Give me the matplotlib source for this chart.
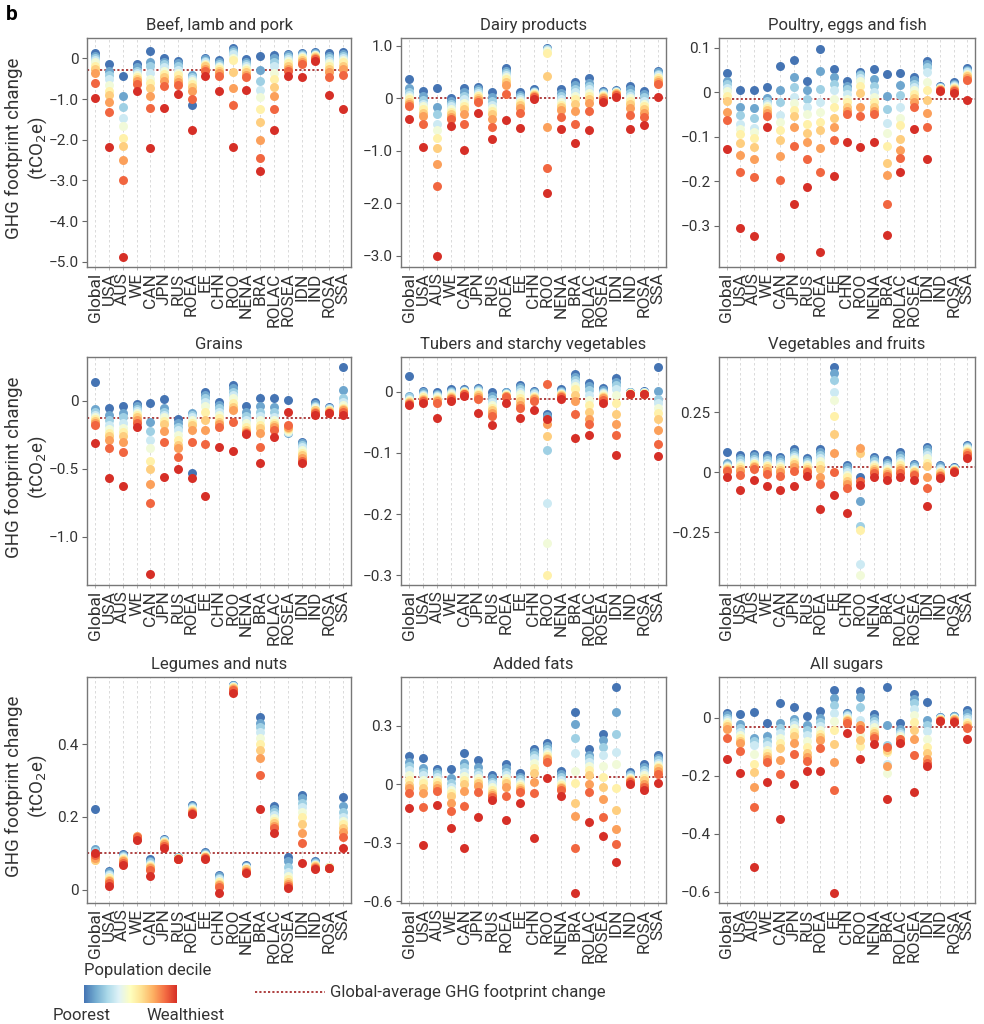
import numpy as np
import matplotlib.pyplot as plt
from matplotlib.lines import Line2D
from matplotlib.colors import LinearSegmentedColormap

plt.rcParams['font.family'] = ['Roboto', 'DejaVu Sans']

# DATA
regions = ['Global', 'USA', 'AUS', 'WE', 'CAN', 'JPN', 'RUS', 'ROEA', 'EE', 'CHN',
           'ROO', 'NENA', 'BRA', 'ROLAC', 'ROSEA', 'IDN', 'IND', 'ROSA', 'SSA']
titles = ['Beef, lamb and pork', 'Dairy products', 'Poultry, eggs and fish',
          'Grains', 'Tubers and starchy vegetables', 'Vegetables and fruits',
          'Legumes and nuts', 'Added fats', 'All sugars']

# one row per region, deciles 1 (poorest) .. 10 (wealthiest), tCO2e
beef = [
    [0.12, 0.05, 0.0, -0.05, -0.1, -0.18, -0.25, -0.35, -0.6, -0.98],
    [-0.13, -0.3, -0.4, -0.5, -0.65, -0.8, -0.9, -1.08, -1.32, -2.18],
    [-0.44, -0.93, -1.19, -1.46, -1.67, -1.96, -2.15, -2.51, -3.0, -4.88],
    [-0.13, -0.22, -0.3, -0.35, -0.4, -0.45, -0.5, -0.56, -0.62, -0.8],
    [0.18, -0.08, -0.2, -0.35, -0.5, -0.6, -0.72, -0.93, -1.21, -2.2],
    [0.02, -0.08, -0.15, -0.22, -0.3, -0.38, -0.46, -0.55, -0.68, -1.22],
    [-0.06, -0.12, -0.2, -0.28, -0.35, -0.42, -0.5, -0.58, -0.66, -0.88],
    [-1.15, -0.42, -0.45, -0.5, -0.55, -0.62, -0.7, -0.8, -1.0, -1.75],
    [0.02, -0.02, -0.06, -0.1, -0.13, -0.17, -0.2, -0.25, -0.3, -0.43],
    [-0.04, -0.1, -0.14, -0.18, -0.22, -0.27, -0.32, -0.37, -0.43, -0.8],
    [0.26, 0.21, 0.16, 0.1, 0.02, -0.05, -0.33, -0.72, -1.15, -2.18],
    [-0.02, -0.08, -0.13, -0.18, -0.23, -0.28, -0.33, -0.4, -0.47, -0.77],
    [0.06, -0.29, -0.56, -0.78, -0.95, -1.24, -1.56, -2.0, -2.44, -2.77],
    [0.09, 0.0, -0.1, -0.2, -0.35, -0.5, -0.7, -0.93, -1.25, -1.77],
    [0.11, 0.07, 0.03, -0.02, -0.07, -0.12, -0.18, -0.25, -0.32, -0.44],
    [0.12, 0.1, 0.08, 0.06, 0.03, 0.0, -0.04, -0.08, -0.14, -0.47],
    [0.15, 0.13, 0.11, 0.09, 0.07, 0.05, 0.03, 0.01, -0.02, -0.06],
    [0.12, 0.06, 0.0, -0.06, -0.12, -0.18, -0.25, -0.33, -0.47, -0.9],
    [0.15, 0.1, 0.05, 0.0, -0.05, -0.1, -0.18, -0.27, -0.42, -1.24],
]
dairy = [
    [0.37, 0.2, 0.13, 0.07, 0.02, -0.02, -0.06, -0.1, -0.15, -0.4],
    [0.14, 0.05, -0.03, -0.1, -0.15, -0.2, -0.27, -0.33, -0.48, -0.92],
    [0.2, -0.16, -0.3, -0.48, -0.6, -0.76, -0.95, -1.25, -1.66, -3.0],
    [0.0, -0.05, -0.1, -0.15, -0.2, -0.25, -0.3, -0.35, -0.4, -0.52],
    [0.2, 0.12, 0.05, -0.02, -0.08, -0.14, -0.2, -0.3, -0.48, -0.99],
    [0.22, 0.18, 0.14, 0.1, 0.07, 0.04, 0.01, -0.03, -0.07, -0.27],
    [0.13, 0.03, -0.05, -0.12, -0.18, -0.24, -0.3, -0.4, -0.55, -0.78],
    [0.58, 0.53, 0.48, 0.44, 0.4, 0.36, 0.32, 0.25, 0.08, -0.41],
    [0.12, 0.07, 0.03, -0.01, -0.05, -0.09, -0.13, -0.18, -0.27, -0.57],
    [0.17, 0.15, 0.13, 0.12, 0.1, 0.08, 0.06, 0.04, 0.02, -0.02],
    [0.96, 0.95, 0.94, 0.93, 0.9, 0.86, 0.42, -0.55, -1.33, -1.81],
    [0.17, 0.1, 0.04, -0.02, -0.07, -0.12, -0.17, -0.22, -0.35, -0.59],
    [0.32, 0.25, 0.18, 0.12, 0.05, -0.02, -0.1, -0.24, -0.49, -0.84],
    [0.38, 0.3, 0.23, 0.17, 0.1, 0.04, -0.02, -0.08, -0.24, -0.6],
    [0.15, 0.12, 0.1, 0.08, 0.06, 0.04, 0.02, 0.0, -0.03, -0.07],
    [0.16, 0.15, 0.14, 0.13, 0.12, 0.11, 0.1, 0.08, 0.06, 0.03],
    [0.24, 0.17, 0.1, 0.05, 0.0, -0.05, -0.1, -0.18, -0.32, -0.59],
    [0.14, 0.08, 0.02, -0.04, -0.1, -0.15, -0.2, -0.27, -0.35, -0.5],
    [0.53, 0.5, 0.47, 0.44, 0.41, 0.38, 0.35, 0.32, 0.28, 0.02],
]
poultry = [
    [0.044, 0.025, 0.018, 0.01, 0.002, -0.008, -0.02, -0.044, -0.063, -0.127],
    [0.005, -0.033, -0.051, -0.072, -0.083, -0.095, -0.115, -0.141, -0.18, -0.306],
    [0.005, -0.036, -0.058, -0.08, -0.09, -0.104, -0.123, -0.15, -0.19, -0.324],
    [0.011, -0.013, -0.02, -0.026, -0.031, -0.036, -0.041, -0.047, -0.054, -0.079],
    [0.058, 0.005, -0.023, -0.051, -0.068, -0.085, -0.108, -0.144, -0.198, -0.37],
    [0.072, 0.034, 0.011, -0.011, -0.025, -0.04, -0.053, -0.079, -0.121, -0.252],
    [0.026, 0.004, -0.015, -0.034, -0.049, -0.072, -0.091, -0.112, -0.15, -0.213],
    [0.097, 0.048, 0.008, -0.023, -0.045, -0.068, -0.085, -0.125, -0.18, -0.359],
    [0.053, 0.034, 0.019, 0.004, -0.015, -0.034, -0.057, -0.079, -0.108, -0.189],
    [0.026, 0.015, 0.008, -0.004, -0.015, -0.023, -0.033, -0.042, -0.049, -0.111],
    [0.045, 0.042, 0.038, 0.032, 0.025, 0.015, -0.002, -0.034, -0.053, -0.123],
    [0.053, 0.03, 0.013, 0.0, -0.011, -0.023, -0.033, -0.042, -0.049, -0.113],
    [0.042, -0.008, -0.038, -0.07, -0.091, -0.122, -0.16, -0.187, -0.252, -0.32],
    [0.044, 0.017, -0.006, -0.034, -0.057, -0.074, -0.106, -0.13, -0.147, -0.18],
    [0.034, 0.027, 0.019, 0.012, 0.004, -0.004, -0.012, -0.021, -0.033, -0.082],
    [0.07, 0.064, 0.057, 0.045, 0.023, 0.005, -0.017, -0.047, -0.078, -0.15],
    [0.013, 0.012, 0.011, 0.01, 0.009, 0.008, 0.007, 0.006, 0.005, 0.003],
    [0.022, 0.019, 0.016, 0.013, 0.011, 0.009, 0.007, 0.005, 0.003, -0.002],
    [0.054, 0.051, 0.048, 0.045, 0.042, 0.039, 0.036, 0.032, 0.027, -0.017],
]
grains = [
    [0.142, -0.06, -0.08, -0.1, -0.115, -0.13, -0.145, -0.16, -0.18, -0.307],
    [-0.049, -0.1, -0.14, -0.175, -0.21, -0.235, -0.26, -0.29, -0.35, -0.57],
    [-0.034, -0.09, -0.12, -0.165, -0.2, -0.23, -0.26, -0.3, -0.373, -0.624],
    [-0.025, -0.04, -0.06, -0.075, -0.09, -0.105, -0.12, -0.14, -0.165, -0.19],
    [-0.017, -0.157, -0.221, -0.287, -0.349, -0.442, -0.504, -0.614, -0.749, -1.278],
    [0.012, -0.05, -0.08, -0.1, -0.12, -0.145, -0.172, -0.221, -0.305, -0.563],
    [-0.135, -0.165, -0.19, -0.214, -0.25, -0.287, -0.324, -0.349, -0.415, -0.504],
    [-0.533, -0.09, -0.1, -0.12, -0.14, -0.16, -0.18, -0.214, -0.3, -0.57],
    [0.069, 0.044, 0.02, -0.005, -0.037, -0.079, -0.14, -0.214, -0.317, -0.7],
    [-0.005, -0.03, -0.054, -0.079, -0.1, -0.128, -0.152, -0.17, -0.19, -0.337],
    [0.118, 0.093, 0.069, 0.044, 0.02, -0.012, -0.047, -0.066, -0.152, -0.366],
    [-0.034, -0.079, -0.11, -0.14, -0.165, -0.19, -0.214, -0.226, -0.238, -0.243],
    [0.025, -0.037, -0.079, -0.11, -0.14, -0.177, -0.2, -0.233, -0.337, -0.459],
    [0.02, -0.042, -0.079, -0.115, -0.14, -0.165, -0.18, -0.194, -0.214, -0.268],
    [0.007, -0.235, -0.23, -0.225, -0.22, -0.21, -0.2, -0.19, -0.175, -0.08],
    [-0.3, -0.31, -0.325, -0.34, -0.36, -0.38, -0.4, -0.42, -0.44, -0.455],
    [-0.005, -0.02, -0.035, -0.045, -0.055, -0.065, -0.07, -0.08, -0.09, -0.1],
    [-0.042, -0.05, -0.055, -0.06, -0.065, -0.07, -0.075, -0.08, -0.085, -0.09],
    [0.253, 0.081, 0.02, -0.01, -0.03, -0.05, -0.06, -0.07, -0.08, -0.1],
]
tubers = [
    [0.026, -0.007, -0.009, -0.011, -0.013, -0.015, -0.016, -0.018, -0.02, -0.022],
    [0.002, -0.001, -0.003, -0.005, -0.007, -0.009, -0.011, -0.013, -0.015, -0.019],
    [0.0, -0.003, -0.005, -0.007, -0.009, -0.011, -0.013, -0.015, -0.018, -0.043],
    [0.004, 0.002, 0.0, -0.002, -0.004, -0.006, -0.008, -0.01, -0.012, -0.015],
    [0.004, 0.003, 0.002, 0.001, 0.0, -0.001, -0.002, -0.003, -0.004, -0.006],
    [0.007, 0.005, 0.003, 0.001, -0.001, -0.003, -0.005, -0.008, -0.011, -0.035],
    [-0.001, -0.006, -0.011, -0.016, -0.021, -0.026, -0.03, -0.035, -0.04, -0.055],
    [0.0, -0.001, -0.002, -0.003, -0.004, -0.005, -0.006, -0.007, -0.009, -0.019],
    [0.012, 0.008, 0.004, 0.0, -0.004, -0.01, -0.015, -0.022, -0.026, -0.042],
    [0.002, 0.0, -0.002, -0.004, -0.006, -0.008, -0.01, -0.012, -0.015, -0.03],
    [-0.037, -0.04, -0.095, -0.182, -0.248, -0.3, -0.072, -0.052, 0.013, -0.045],
    [0.004, 0.002, 0.0, -0.002, -0.003, -0.004, -0.005, -0.006, -0.008, -0.011],
    [0.029, 0.025, 0.02, 0.015, 0.009, 0.004, -0.005, -0.015, -0.037, -0.076],
    [0.015, 0.009, 0.003, -0.005, -0.014, -0.022, -0.033, -0.044, -0.053, -0.07],
    [0.006, 0.003, 0.0, -0.002, -0.004, -0.006, -0.008, -0.01, -0.013, -0.019],
    [0.022, 0.016, 0.011, 0.004, -0.005, -0.018, -0.037, -0.053, -0.07, -0.103],
    [0.0, -0.001, -0.001, -0.002, -0.002, -0.002, -0.003, -0.003, -0.003, -0.004],
    [0.001, 0.0, -0.001, -0.001, -0.002, -0.002, -0.003, -0.003, -0.003, -0.004],
    [0.04, 0.001, -0.011, -0.019, -0.027, -0.035, -0.044, -0.063, -0.085, -0.105],
]
veg_fruit = [
    [0.086, 0.04, 0.03, 0.025, 0.02, 0.016, 0.013, 0.01, 0.005, -0.018],
    [0.072, 0.06, 0.05, 0.04, 0.03, 0.022, 0.014, 0.005, -0.011, -0.074],
    [0.076, 0.066, 0.056, 0.048, 0.04, 0.033, 0.027, 0.02, 0.012, -0.032],
    [0.072, 0.06, 0.05, 0.04, 0.032, 0.024, 0.016, 0.006, -0.008, -0.057],
    [0.065, 0.054, 0.044, 0.035, 0.027, 0.018, 0.01, 0.0, -0.015, -0.074],
    [0.097, 0.085, 0.073, 0.063, 0.053, 0.043, 0.033, 0.022, 0.007, -0.057],
    [0.058, 0.05, 0.042, 0.035, 0.028, 0.021, 0.014, 0.007, 0.0, -0.014],
    [0.097, 0.085, 0.072, 0.06, 0.045, 0.03, 0.013, -0.018, -0.049, -0.153],
    [0.44, 0.412, 0.385, 0.336, 0.299, 0.236, 0.158, 0.079, -0.001, -0.094],
    [0.031, 0.02, 0.01, 0.0, -0.01, -0.02, -0.035, -0.05, -0.067, -0.171],
    [-0.02, -0.118, -0.224, -0.383, -0.428, -0.24, 0.08, 0.1, -0.035, -0.053],
    [0.065, 0.055, 0.045, 0.036, 0.028, 0.02, 0.012, 0.005, -0.003, -0.018],
    [0.051, 0.04, 0.03, 0.022, 0.014, 0.007, 0.0, -0.008, -0.017, -0.032],
    [0.083, 0.07, 0.058, 0.047, 0.037, 0.028, 0.018, 0.008, -0.002, -0.018],
    [0.035, 0.028, 0.021, 0.015, 0.01, 0.005, 0.0, -0.006, -0.013, -0.032],
    [0.107, 0.097, 0.086, 0.072, 0.058, 0.04, 0.024, -0.018, -0.067, -0.139],
    [0.03, 0.024, 0.018, 0.012, 0.007, 0.002, -0.004, -0.01, -0.016, -0.025],
    [0.022, 0.019, 0.017, 0.015, 0.013, 0.011, 0.009, 0.007, 0.005, 0.002],
    [0.114, 0.11, 0.105, 0.1, 0.095, 0.09, 0.085, 0.078, 0.07, 0.061],
]
legumes = [
    [0.222, 0.113, 0.106, 0.098, 0.09, 0.083, 0.082, 0.088, 0.095, 0.102],
    [0.053, 0.048, 0.044, 0.04, 0.036, 0.032, 0.028, 0.024, 0.018, 0.012],
    [0.099, 0.096, 0.093, 0.09, 0.087, 0.084, 0.081, 0.078, 0.074, 0.068],
    [0.14, 0.141, 0.142, 0.143, 0.144, 0.145, 0.146, 0.147, 0.146, 0.137],
    [0.085, 0.08, 0.076, 0.072, 0.068, 0.065, 0.062, 0.059, 0.055, 0.038],
    [0.14, 0.138, 0.136, 0.134, 0.132, 0.13, 0.128, 0.125, 0.121, 0.115],
    [0.09, 0.089, 0.089, 0.088, 0.088, 0.087, 0.087, 0.086, 0.086, 0.085],
    [0.234, 0.231, 0.228, 0.225, 0.222, 0.219, 0.216, 0.213, 0.21, 0.207],
    [0.103, 0.101, 0.099, 0.097, 0.095, 0.093, 0.091, 0.089, 0.087, 0.085],
    [0.041, 0.037, 0.033, 0.029, 0.025, 0.021, 0.017, 0.013, 0.008, -0.009],
    [0.562, 0.561, 0.56, 0.559, 0.557, 0.556, 0.554, 0.552, 0.549, 0.54],
    [0.068, 0.066, 0.064, 0.062, 0.06, 0.058, 0.056, 0.053, 0.05, 0.046],
    [0.475, 0.457, 0.446, 0.434, 0.418, 0.4, 0.384, 0.361, 0.315, 0.223],
    [0.231, 0.222, 0.213, 0.205, 0.197, 0.19, 0.183, 0.176, 0.17, 0.157],
    [0.091, 0.078, 0.064, 0.05, 0.038, 0.029, 0.022, 0.016, 0.011, 0.006],
    [0.26, 0.251, 0.239, 0.226, 0.215, 0.199, 0.181, 0.157, 0.128, 0.073],
    [0.08, 0.077, 0.074, 0.071, 0.069, 0.067, 0.065, 0.063, 0.061, 0.058],
    [0.064, 0.064, 0.063, 0.063, 0.062, 0.062, 0.061, 0.061, 0.06, 0.06],
    [0.256, 0.23, 0.215, 0.2, 0.19, 0.18, 0.17, 0.158, 0.145, 0.115],
]
added_fats = [
    [0.144, 0.115, 0.092, 0.072, 0.046, 0.021, -0.005, -0.022, -0.048, -0.122],
    [0.132, 0.08, 0.063, 0.046, 0.021, 0.003, -0.022, -0.048, -0.116, -0.31],
    [0.075, 0.063, 0.05, 0.035, 0.021, 0.008, -0.005, -0.018, -0.034, -0.108],
    [0.075, 0.029, 0.005, -0.015, -0.03, -0.045, -0.06, -0.099, -0.137, -0.224],
    [0.161, 0.106, 0.089, 0.063, 0.04, 0.02, 0.0, -0.036, -0.111, -0.327],
    [0.123, 0.089, 0.063, 0.046, 0.029, 0.017, 0.003, -0.01, -0.043, -0.168],
    [0.046, 0.029, 0.012, 0.0, -0.014, -0.031, -0.045, -0.057, -0.065, -0.082],
    [0.101, 0.08, 0.063, 0.046, 0.029, 0.017, 0.003, -0.017, -0.062, -0.182],
    [0.055, 0.038, 0.024, 0.012, 0.0, -0.01, -0.022, -0.031, -0.043, -0.096],
    [0.178, 0.166, 0.149, 0.132, 0.106, 0.08, 0.055, 0.012, -0.045, -0.279],
    [0.209, 0.195, 0.178, 0.166, 0.154, 0.144, 0.135, 0.128, 0.115, 0.029],
    [0.067, 0.05, 0.034, 0.021, 0.007, -0.005, -0.014, -0.022, -0.031, -0.062],
    [0.372, 0.307, 0.235, 0.158, 0.067, 0.003, -0.099, -0.164, -0.33, -0.557],
    [0.178, 0.149, 0.132, 0.115, 0.092, 0.072, 0.046, -0.002, -0.039, -0.193],
    [0.257, 0.226, 0.188, 0.149, 0.092, 0.034, -0.017, -0.079, -0.171, -0.265],
    [0.497, 0.368, 0.257, 0.166, 0.101, -0.019, -0.134, -0.233, -0.305, -0.402],
    [0.06, 0.052, 0.045, 0.038, 0.032, 0.026, 0.02, 0.014, 0.008, 0.0],
    [0.101, 0.085, 0.07, 0.056, 0.044, 0.032, 0.02, 0.0, -0.015, -0.03],
    [0.149, 0.135, 0.122, 0.11, 0.1, 0.09, 0.08, 0.068, 0.052, 0.007],
]
sugars = [
    [0.017, 0.008, 0.0, -0.008, -0.015, -0.022, -0.03, -0.04, -0.071, -0.143],
    [0.011, -0.023, -0.035, -0.048, -0.06, -0.07, -0.08, -0.089, -0.114, -0.192],
    [0.018, -0.069, -0.08, -0.095, -0.126, -0.161, -0.189, -0.24, -0.307, -0.514],
    [-0.017, -0.063, -0.08, -0.094, -0.111, -0.123, -0.134, -0.144, -0.152, -0.221],
    [0.049, -0.02, -0.037, -0.052, -0.071, -0.089, -0.106, -0.146, -0.195, -0.351],
    [0.038, -0.006, -0.014, -0.025, -0.037, -0.048, -0.063, -0.089, -0.126, -0.23],
    [0.007, -0.025, -0.043, -0.06, -0.08, -0.1, -0.123, -0.135, -0.15, -0.184],
    [0.024, 0.0, -0.014, -0.029, -0.043, -0.056, -0.068, -0.077, -0.106, -0.183],
    [0.095, 0.067, 0.044, 0.015, -0.011, -0.043, -0.091, -0.152, -0.249, -0.603],
    [0.017, 0.012, 0.008, 0.004, 0.0, -0.004, -0.008, -0.013, -0.02, -0.052],
    [0.092, 0.072, 0.038, -0.008, -0.06, -0.098, -0.077, -0.025, -0.04, -0.143],
    [0.011, 0.0, -0.011, -0.023, -0.034, -0.046, -0.054, -0.063, -0.071, -0.091],
    [0.107, -0.025, -0.095, -0.16, -0.19, -0.12, -0.11, -0.168, -0.103, -0.282],
    [-0.017, -0.04, -0.05, -0.058, -0.065, -0.072, -0.078, -0.083, -0.072, -0.088],
    [0.08, 0.065, 0.05, 0.03, 0.01, -0.014, -0.043, -0.074, -0.129, -0.257],
    [0.053, -0.008, -0.025, -0.046, -0.074, -0.1, -0.123, -0.144, -0.157, -0.167],
    [0.003, 0.002, 0.0, -0.002, -0.004, -0.005, -0.007, -0.008, -0.01, -0.012],
    [0.006, 0.004, 0.002, 0.0, -0.002, -0.004, -0.006, -0.008, -0.011, -0.014],
    [0.026, 0.015, 0.003, -0.006, -0.014, -0.02, -0.025, -0.031, -0.037, -0.075],
]
global_avg = [-0.29, 0.01, -0.016, -0.128, -0.012, 0.023, 0.10, 0.037, -0.034]

panels = [beef, dairy, poultry, grains, tubers, veg_fruit, legumes, added_fats, sugars]

# axis limits / ticks per panel
ylims = [(-5.13, 0.5), (-3.21, 1.15), (-0.393, 0.122), (-1.356, 0.324), (-0.316, 0.057),
         (-0.47, 0.48), (-0.036, 0.584), (-0.61, 0.549), (-0.639, 0.14)]
yticks = [[0, -1, -2, -3, -4, -5], [1, 0, -1, -2, -3], [0.1, 0, -0.1, -0.2, -0.3],
          [0, -0.5, -1.0], [0, -0.1, -0.2, -0.3], [0.25, 0, -0.25],
          [0, 0.2, 0.4], [0.3, 0, -0.3, -0.6], [0, -0.2, -0.4, -0.6]]
ydec = [1, 1, 1, 1, 1, 2, 1, 1, 1]

# STYLE
W, H = 984, 1024
col_x = [(87, 351), (401, 666), (719, 975)]
row_y = [(38, 267), (357, 585), (677, 903)]
txt = '#333333'
base = plt.cm.RdYlBu_r
deciles = base(np.linspace(0.1, 0.9, 10))
bar_cmap = LinearSegmentedColormap.from_list('dec', base(np.linspace(0.1, 0.9, 256)))


def fmt(v, d):
    if abs(v) < 1e-9:
        return '0'
    s = f'{abs(v):.{d}f}'
    return ('\u2212' + s) if v < 0 else s


fig = plt.figure(figsize=(W / 100, H / 100), dpi=100)
x = np.arange(len(regions))

for i, data in enumerate(panels):
    r, c = divmod(i, 3)
    x0, x1 = col_x[c]
    y0, y1 = row_y[r]
    ax = fig.add_axes([x0 / W, 1 - y1 / H, (x1 - x0) / W, (y1 - y0) / H])
    arr = np.array(data)
    for d in range(10):
        ax.scatter(x, arr[:, d], s=42, color=deciles[d], linewidths=0, zorder=3)
    ax.axhline(global_avg[i], color='#a83232', ls=(0, (1.2, 1.2)), lw=1.3, zorder=2)
    ax.set_xlim(-0.6, len(regions) - 0.4)
    ax.set_ylim(*ylims[i])
    ax.set_xticks(x)
    ax.set_xticklabels(regions, rotation=90, fontsize=12.5, color=txt)
    ax.set_yticks(yticks[i])
    ax.set_yticklabels([fmt(v, ydec[i]) for v in yticks[i]], fontsize=11, color=txt)
    ax.tick_params(axis='x', length=2.5, width=0.6, color='#aaaaaa', pad=1.5)
    ax.tick_params(axis='y', length=3.5, width=0.8, color='#666666', pad=2.5)
    ax.xaxis.grid(True, color='#d4d4d4', ls=(0, (3, 3)), lw=0.6, zorder=0)
    ax.set_axisbelow(True)
    for sp in ax.spines.values():
        sp.set_color('#777777')
        sp.set_linewidth(1.0)
    ax.set_title(titles[i], fontsize=12, color=txt, pad=6)
    if c == 0:
        fig.text(27 / W, 1 - ((y0 + y1) / 2 - 4) / H, 'GHG footprint change\n(tCO$_2$e)',
                 rotation=90, ha='center', va='center', fontsize=13.5, color=txt,
                 linespacing=1.2)

fig.text(6 / W, 1 - 15 / H, 'b', fontsize=15, fontweight='bold', va='center', color='black')

# legend: decile colour bar
cax = fig.add_axes([84 / W, 1 - 1003 / H, 93 / W, 18 / H])
cax.imshow(np.linspace(0, 1, 256)[None, :], aspect='auto', cmap=bar_cmap)
cax.axis('off')
fig.text(84 / W, 1 - 971 / H, 'Population decile', fontsize=12, color=txt, va='center')
fig.text(82 / W, 1 - 1016 / H, 'Poorest', fontsize=12, color=txt, va='center', ha='center')
fig.text(186 / W, 1 - 1016 / H, 'Wealthiest', fontsize=12, color=txt, va='center', ha='center')

# legend: global average line
fig.add_artist(Line2D([255 / W, 325 / W], [1 - 992 / H] * 2, color='#a83232',
                      ls=(0, (1.2, 1.2)), lw=1.3))
fig.text(330 / W, 1 - 992 / H, 'Global-average GHG footprint change', fontsize=12,
         color=txt, va='center')

fig.savefig('out.png', dpi=100)
